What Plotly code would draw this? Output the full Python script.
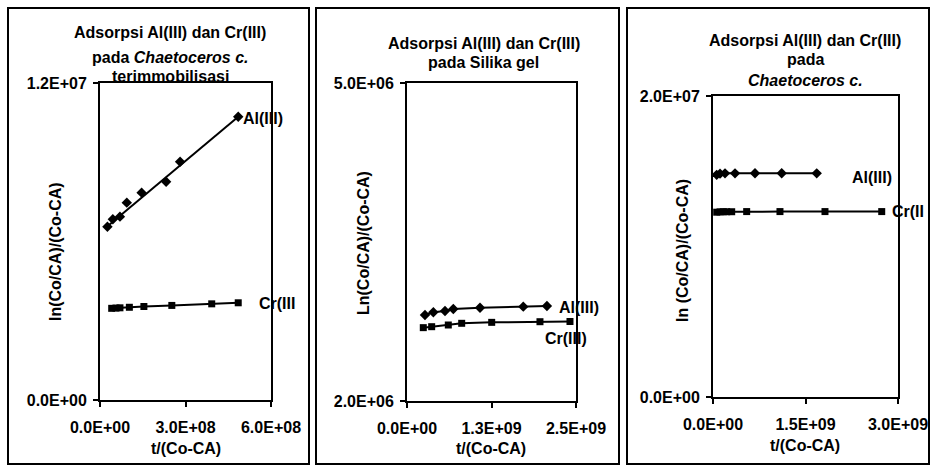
import plotly.graph_objects as go

W, H = 932, 468

# ---------------- data ----------------
# Panel 1: Chaetoceros c. terimmobilisasi
p1_al_x = [2.6e7, 4.5e7, 7.0e7, 9.4e7, 1.46e8, 2.32e8, 2.81e8, 4.85e8]
p1_al_y = [6.56e6, 6.84e6, 6.94e6, 7.47e6, 7.85e6, 8.26e6, 9.02e6, 1.072e7]
p1_al_fit_x = [1.8e7, 4.85e8]
p1_al_fit_y = [6.50e6, 1.072e7]
p1_cr_x = [4.1e7, 5.6e7, 7.0e7, 1.03e8, 1.54e8, 2.52e8, 3.92e8, 4.85e8]
p1_cr_y = [3.47e6, 3.48e6, 3.49e6, 3.51e6, 3.54e6, 3.58e6, 3.64e6, 3.68e6]

# Panel 2: Silika gel
p2_al_x = [2.66e8, 3.9e8, 5.62e8, 6.85e8, 1.08e9, 1.72e9, 2.07e9]
p2_al_y = [2.811e6, 2.837e6, 2.849e6, 2.868e6, 2.880e6, 2.890e6, 2.896e6]
p2_cr_x = [2.41e8, 3.65e8, 6.11e8, 8.09e8, 1.253e9, 1.967e9, 2.411e9]
p2_cr_y = [2.692e6, 2.701e6, 2.717e6, 2.733e6, 2.742e6, 2.748e6, 2.750e6]

# Panel 3: Chaetoceros c.
p3_al_x = [6e7, 1.14e8, 1.95e8, 3.57e8, 6.81e8, 1.114e9, 1.682e9]
p3_al_y = [1.476e7, 1.484e7, 1.486e7, 1.486e7, 1.487e7, 1.487e7, 1.486e7]
p3_cr_x = [6e7, 1.14e8, 1.67e8, 2.22e8, 3.03e8, 5.46e8, 1.086e9, 1.816e9, 2.736e9]
p3_cr_y = [1.228e7, 1.230e7, 1.231e7, 1.231e7, 1.231e7, 1.232e7, 1.232e7, 1.232e7, 1.232e7]

# axis ranges and tick labels
p1_xrange = [0, 6e8]; p1_yrange = [0, 1.2e7]
p1_xticks = [0, 3e8, 6e8]; p1_xlabels = ["0.0E+00", "3.0E+08", "6.0E+08"]
p1_yticks = [0, 1.2e7]; p1_ylabels = ["0.0E+00", "1.2E+07"]

p2_xrange = [0, 2.5e9]; p2_yrange = [2e6, 5e6]
p2_xticks = [0, 1.25e9, 2.5e9]; p2_xlabels = ["0.0E+00", "1.3E+09", "2.5E+09"]
p2_yticks = [2e6, 5e6]; p2_ylabels = ["2.0E+06", "5.0E+06"]

p3_xrange = [0, 3e9]; p3_yrange = [0, 2e7]
p3_xticks = [0, 1.5e9, 3e9]; p3_xlabels = ["0.0E+00", "1.5E+09", "3.0E+09"]
p3_yticks = [0, 2e7]; p3_ylabels = ["0.0E+00", "2.0E+07"]

# ---------------- figure ----------------
FONT = "Liberation Sans, Arial, sans-serif"
FS = 16


def px(x):
    return x / W


def py(y):
    return 1 - y / H


fig = go.Figure()

mk_al = dict(symbol="diamond", size=8, color="black")
mk_cr = dict(symbol="square", size=7, color="black")
ln = dict(color="black", width=2)

# panel 1
fig.add_trace(go.Scatter(x=p1_al_fit_x, y=p1_al_fit_y, mode="lines", line=ln,
                         xaxis="x", yaxis="y", showlegend=False, hoverinfo="skip"))
fig.add_trace(go.Scatter(x=p1_al_x, y=p1_al_y, mode="markers", marker=mk_al,
                         xaxis="x", yaxis="y", showlegend=False))
fig.add_trace(go.Scatter(x=p1_cr_x, y=p1_cr_y, mode="lines+markers", marker=mk_cr, line=ln,
                         xaxis="x", yaxis="y", showlegend=False))
# panel 2
fig.add_trace(go.Scatter(x=p2_al_x, y=p2_al_y, mode="lines+markers", marker=mk_al, line=ln,
                         xaxis="x2", yaxis="y2", showlegend=False))
fig.add_trace(go.Scatter(x=p2_cr_x, y=p2_cr_y, mode="lines+markers", marker=mk_cr, line=ln,
                         xaxis="x2", yaxis="y2", showlegend=False))
# panel 3
fig.add_trace(go.Scatter(x=p3_al_x, y=p3_al_y, mode="lines+markers", marker=mk_al, line=ln,
                         xaxis="x3", yaxis="y3", showlegend=False))
fig.add_trace(go.Scatter(x=p3_cr_x, y=p3_cr_y, mode="lines+markers", marker=mk_cr, line=ln,
                         xaxis="x3", yaxis="y3", showlegend=False))


def axis(domain, rng, ticks, labels, anchor, xdir=True):
    d = dict(domain=domain, range=rng, tickvals=ticks,
             ticktext=["<b>%s</b>" % t for t in labels],
             showgrid=False, zeroline=False, showline=True, mirror=True,
             linecolor="black", linewidth=2, ticks="outside", ticklen=5,
             tickwidth=1.5, tickcolor="black", anchor=anchor,
             tickfont=dict(family=FONT, size=FS, color="black"),
             fixedrange=True, automargin=False)
    d["ticklabelstandoff"] = 7 if xdir else 3
    return d


plots = [
    (100, 271, 400, 83),
    (407, 576, 401, 83),
    (713, 898, 397, 96),
]

lay = dict(width=W, height=H, margin=dict(l=0, r=0, t=0, b=0, pad=0),
           paper_bgcolor="white", plot_bgcolor="white", template="none",
           font=dict(family=FONT, size=FS, color="black"))

cfgs = [
    (p1_xrange, p1_xticks, p1_xlabels, p1_yrange, p1_yticks, p1_ylabels),
    (p2_xrange, p2_xticks, p2_xlabels, p2_yrange, p2_yticks, p2_ylabels),
    (p3_xrange, p3_xticks, p3_xlabels, p3_yrange, p3_yticks, p3_ylabels),
]
for i, ((l, r, b, t), (xr, xt, xl, yr, yt, yl)) in enumerate(zip(plots, cfgs)):
    sfx = "" if i == 0 else str(i + 1)
    lay["xaxis" + sfx] = axis([px(l), px(r)], xr, xt, xl, "y" + sfx, True)
    lay["yaxis" + sfx] = axis([py(b), py(t)], yr, yt, yl, "x" + sfx, False)

fig.update_layout(**lay)

# panel frames
shapes = []
for (x0, x1) in [(8, 309), (316, 619), (627, 929)]:
    shapes.append(dict(type="rect", xref="paper", yref="paper",
                       x0=px(x0), x1=px(x1), y0=py(464), y1=py(8),
                       line=dict(color="black", width=2), layer="below"))
fig.update_layout(shapes=shapes)


def txt(x, y, s, xanchor="center", angle=0, size=FS):
    fig.add_annotation(x=px(x), y=py(y), xref="paper", yref="paper", text=s,
                       showarrow=False, xanchor=xanchor, yanchor="middle",
                       textangle=angle, font=dict(family=FONT, size=size, color="black"))


# titles
txt(170, 33, "<b>Adsorpsi Al(III) dan Cr(III)</b>")
txt(170, 57, "<b>pada <i>Chaetoceros c.</i></b>")
txt(170, 77, "<b>terimmobilisasi</b>")
txt(484, 43, "<b>Adsorpsi Al(III) dan Cr(III)</b>")
txt(484, 63, "<b>pada Silika gel</b>")
txt(805, 40, "<b>Adsorpsi Al(III) dan Cr(III)</b>")
txt(805, 60, "<b>pada</b>")
txt(805, 80, "<b><i>Chaetoceros c.</i></b>")

# axis titles
txt(186, 448, "<b>t/(Co-CA)</b>")
txt(491, 448, "<b>t/(Co-CA)</b>")
txt(805, 445, "<b>t/(Co-CA)</b>")
txt(55, 252, "<b>ln(Co/CA)/(Co-CA)</b>", angle=-90)
txt(363, 243, "<b>Ln(Co/CA)/(Co-CA)</b>", angle=-90)
txt(682, 251, "<b>ln (Co/CA)/(Co-CA)</b>", angle=-90)

# series labels
txt(241, 118, "<b>Al(III)</b>", xanchor="left")
txt(257, 303, "<b>Cr(III</b>", xanchor="left")
txt(557, 307, "<b>Al(III)</b>", xanchor="left")
txt(543, 338, "<b>Cr(III)</b>", xanchor="left")
txt(850, 177, "<b>Al(III)</b>", xanchor="left")
txt(890, 212, "<b>Cr(II</b>", xanchor="left")

fig.write_html(
    "out.html",
    config={"displayModeBar": False},
    post_script="document.body.style.margin='0';document.body.style.padding='0';",
)
